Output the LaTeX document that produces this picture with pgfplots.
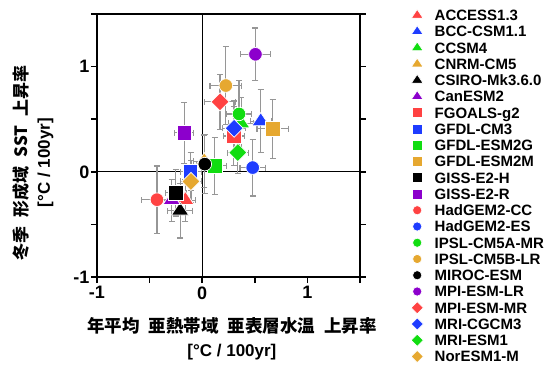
\documentclass[border=0pt]{standalone}
\usepackage{fontspec}
\setmainfont{Liberation Sans}
\newfontfamily\cjk{Noto Sans CJK JP}
\usepackage{pgfplots}
\usepackage{pgfplotstable}
\pgfplotsset{compat=1.18}

\definecolor{cr}{RGB}{255,66,66}
\definecolor{cb}{RGB}{30,60,255}
\definecolor{cg}{RGB}{17,221,17}
\definecolor{co}{RGB}{230,168,48}
\definecolor{ck}{RGB}{0,0,0}
\definecolor{cp}{RGB}{140,0,204}
\definecolor{eb}{RGB}{150,150,150}

% x y ex ey  (order = legend order)
\pgfplotstableread{
x      y       ex    ey
-0.16  -0.27   0.10  0.20
0.556  0.48    0.10  0.30
0.37   0.46    0.12  0.25
0.02   0.10    0.10  0.25
-0.21  -0.37   0.12  0.26
-0.29  -0.27   0.09  0.20
0.30   0.34    0.10  0.28
-0.11  0.00    0.10  0.18
0.12   0.057   0.11  0.27
0.67   0.41    0.15  0.28
-0.25  -0.20   0.10  0.22
-0.17  0.37    0.09  0.29
-0.43  -0.265  0.15  0.32
0.48   0.04    0.12  0.27
0.35   0.55    0.12  0.32
0.225  0.82    0.15  0.37
0.025  0.073   0.08  0.28
0.506  1.117   0.14  0.25
0.17   0.665   0.15  0.26
0.303  0.414   0.11  0.26
0.338  0.183   0.10  0.20
-0.107 -0.092  0.10  0.20
}\data

\pgfplotsset{
  mk/.style={only marks, restrict expr to domain={\coordindex}{#1:#1}},
  tri/.style={mark=triangle*, mark size=8.7pt, mark options={xscale=1.15, fill=#1, draw=white, line width=0.7pt}},
  sq/.style={mark=square*, mark size=7.2pt, mark options={fill=#1, draw=white, line width=0.7pt}},
  ci/.style={mark=*, mark size=6.8pt, mark options={fill=#1, draw=white, line width=0.7pt}},
  di/.style={mark=square*, mark size=6.4pt, mark options={rotate=45, fill=#1, draw=white, line width=0.7pt}},
}

\begin{document}
\begin{tikzpicture}
\path[use as bounding box] (-97pt,-88pt) rectangle (452pt,277pt);
\begin{axis}[
  at={(0pt,0pt)}, anchor=south west,
  scale only axis, width=263pt, height=263pt,
  xmin=-1, xmax=1.5, ymin=-1, ymax=1.5,
  clip=false,
  xtick={-1,-0.5,0,0.5,1,1.5}, xticklabels={-1,,0,,1,},
  ytick={-1,-0.5,0,0.5,1,1.5}, yticklabels={-1,,0,,1,},
  xtick pos=bottom, ytick pos=both,
  tick align=outside,
  major tick length=6pt,
  major tick style={line width=1.6pt, black},
  axis line style={line width=1.8pt},
  ticklabel style={font=\fontsize{18}{18}\selectfont\bfseries},
  yticklabel style={xshift=2pt},
  yticklabel pos=left,
  legend cell align=left,
  legend style={at={(1.194,1.017)}, anchor=north west, draw=none, fill=none,
    inner sep=0pt, row sep=5.25pt, column sep=0pt,
    nodes={inner sep=0pt, text height=11pt, text depth=0pt,
      font=\fontsize{15}{15}\selectfont\bfseries}},
  legend image code/.code={
    \path[draw=none, fill=none] (-6pt,-5.5pt) rectangle (17.5pt,5.5pt);
    \pgfinterruptboundingbox
    \path[#1, draw=none, every mark/.append style={scale=0.68}] plot[only marks] coordinates {(0pt,0pt)};
    \endpgfinterruptboundingbox
  },
]
\addplot[black, line width=1.2pt, forget plot] coordinates {(0,-1) (0,1.5)};
\addplot[black, line width=1.2pt, forget plot] coordinates {(-1,0) (1.5,0)};

\addplot[forget plot, only marks, mark=none,
  error bars/.cd, x dir=both, x explicit, y dir=both, y explicit,
  error bar style={line width=1.2pt, draw=eb},
  error mark options={rotate=90, mark size=3pt, line width=1.2pt, draw=eb}]
  table[x=x, y=y, x error=ex, y error=ey]{\data};

\addplot[mk=0, tri=cr] table[x=x,y=y]{\data}; \addlegendentry{ACCESS1.3}
\addplot[mk=1, tri=cb] table[x=x,y=y]{\data}; \addlegendentry{BCC-CSM1.1}
\addplot[mk=2, tri=cg] table[x=x,y=y]{\data}; \addlegendentry{CCSM4}
\addplot[mk=3, tri=co] table[x=x,y=y]{\data}; \addlegendentry{CNRM-CM5}
\addplot[mk=4, tri=ck] table[x=x,y=y]{\data}; \addlegendentry{CSIRO-Mk3.6.0}
\addplot[mk=5, tri=cp] table[x=x,y=y]{\data}; \addlegendentry{CanESM2}
\addplot[mk=6, sq=cr] table[x=x,y=y]{\data}; \addlegendentry{FGOALS-g2}
\addplot[mk=7, sq=cb] table[x=x,y=y]{\data}; \addlegendentry{GFDL-CM3}
\addplot[mk=8, sq=cg] table[x=x,y=y]{\data}; \addlegendentry{GFDL-ESM2G}
\addplot[mk=9, sq=co] table[x=x,y=y]{\data}; \addlegendentry{GFDL-ESM2M}
\addplot[mk=10, sq=ck] table[x=x,y=y]{\data}; \addlegendentry{GISS-E2-H}
\addplot[mk=11, sq=cp] table[x=x,y=y]{\data}; \addlegendentry{GISS-E2-R}
\addplot[mk=12, ci=cr] table[x=x,y=y]{\data}; \addlegendentry{HadGEM2-CC}
\addplot[mk=13, ci=cb] table[x=x,y=y]{\data}; \addlegendentry{HadGEM2-ES}
\addplot[mk=14, ci=cg] table[x=x,y=y]{\data}; \addlegendentry{IPSL-CM5A-MR}
\addplot[mk=15, ci=co] table[x=x,y=y]{\data}; \addlegendentry{IPSL-CM5B-LR}
\addplot[mk=16, ci=ck] table[x=x,y=y]{\data}; \addlegendentry{MIROC-ESM}
\addplot[mk=17, ci=cp] table[x=x,y=y]{\data}; \addlegendentry{MPI-ESM-LR}
\addplot[mk=18, di=cr] table[x=x,y=y]{\data}; \addlegendentry{MPI-ESM-MR}
\addplot[mk=19, di=cb] table[x=x,y=y]{\data}; \addlegendentry{MRI-CGCM3}
\addplot[mk=20, di=cg] table[x=x,y=y]{\data}; \addlegendentry{MRI-ESM1}
\addplot[mk=21, di=co] table[x=x,y=y]{\data}; \addlegendentry{NorESM1-M}

\node[font=\fontsize{17.5}{17.5}\selectfont\cjk\bfseries] at (rel axis cs:0.513,-0.186)
  {年平均\hspace{9pt}亜熱帯域\hspace{9pt}亜表層水温\hspace{9pt}上昇率};
\node[font=\fontsize{17}{17}\selectfont\bfseries] at (rel axis cs:0.513,-0.285)
  {[°C / 100yr]};
\node[font=\fontsize{17}{17}\selectfont\cjk\bfseries, rotate=90] at (rel axis cs:-0.289,0.435)
  {冬季\hspace{9pt}形成域\hspace{9pt}SST\hspace{9pt}上昇率};
\node[font=\fontsize{17}{17}\selectfont\bfseries, rotate=90] at (rel axis cs:-0.196,0.435)
  {[°C / 100yr]};
\end{axis}
\end{tikzpicture}
\end{document}
